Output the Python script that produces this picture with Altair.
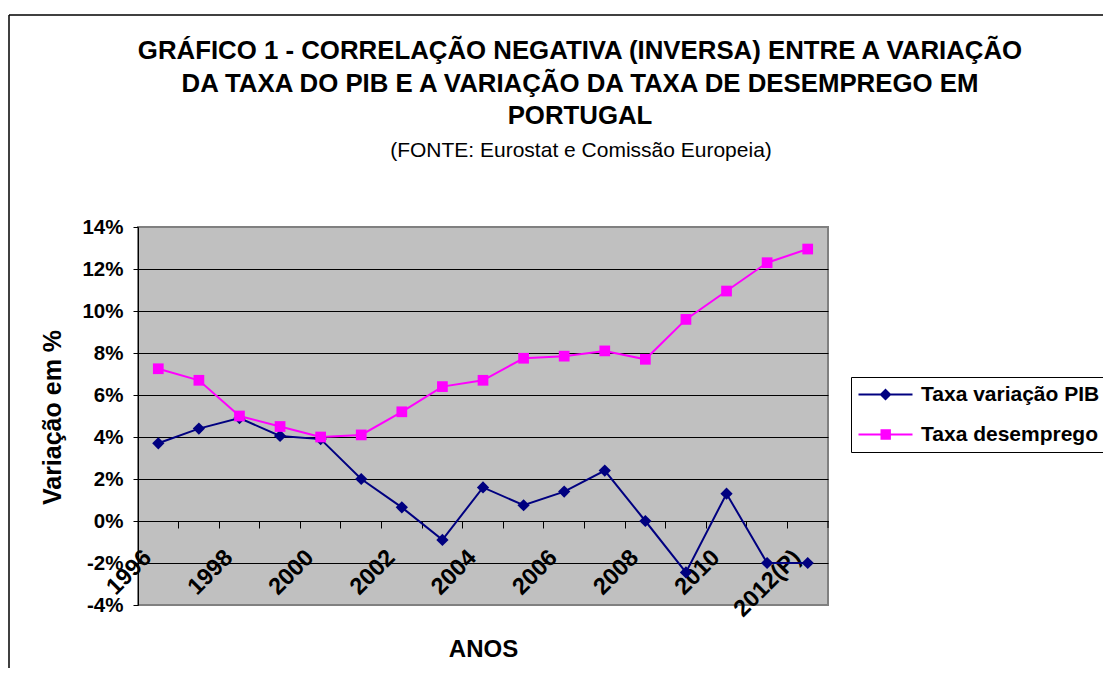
import altair as alt
import pandas as pd

# ---- data ----
anos = ["1996", "1997", "1998", "1999", "2000", "2001", "2002", "2003", "2004",
        "2005", "2006", "2007", "2008", "2009", "2010", "2011", "2012(P)"]
rotulos_eixo = ["1996", "1998", "2000", "2002", "2004", "2006", "2008", "2010", "2012(P)"]
taxa_pib = [3.7, 4.4, 4.9, 4.05, 3.9, 2.0, 0.65, -0.9, 1.6, 0.75, 1.4, 2.4, 0.0,
            -2.45, 1.3, -2.0, -2.0]
taxa_desemprego = [7.25, 6.7, 5.0, 4.5, 4.0, 4.1, 5.2, 6.4, 6.7, 7.75, 7.85, 8.1,
                   7.7, 9.6, 10.95, 12.3, 12.95]
series = ["Taxa variação PIB", "Taxa desemprego"]
cores = ["#000080", "#FF00FF"]
y_ticks = [-4, -2, 0, 2, 4, 6, 8, 10, 12, 14]

titulo = ["GRÁFICO 1 - CORRELAÇÃO NEGATIVA (INVERSA) ENTRE A VARIAÇÃO",
          "DA TAXA DO PIB E A VARIAÇÃO DA TAXA DE DESEMPREGO EM",
          "PORTUGAL"]
subtitulo = "(FONTE: Eurostat e Comissão Europeia)"

FONT = "Liberation Sans"

df = pd.DataFrame({
    "ano": anos * 2,
    "valor": taxa_pib + taxa_desemprego,
    "serie": [series[0]] * len(anos) + [series[1]] * len(anos),
})

label_list = "[" + ",".join("'%s'" % s for s in rotulos_eixo) + "]"

x_enc = alt.X(
    "ano:N",
    sort=anos,
    scale=alt.Scale(type="band", domain=anos, paddingInner=0, paddingOuter=0),
    axis=alt.Axis(
        title="ANOS", offset=-84, bandPosition=0, grid=False,
        tickSize=7, tickColor="black", tickWidth=1,
        domainColor="black", domainWidth=1,
        labelAngle=-45, labelAlign="right", labelBaseline="top",
        labelPadding=17, labelOffset=-19,
        labelOverlap=False, labelFlush=False, labelBound=False,
        labelExpr="indexof(" + label_list + ", datum.value) >= 0 ? datum.value : ''",
        labelFont=FONT, labelFontSize=23.5, labelFontWeight="bold", labelColor="black",
        titleFont=FONT, titleFontSize=24, titleFontWeight="bold", titleColor="black",
        titleX=345, titleY=135, titleAlign="center", titleBaseline="alphabetic",
    ),
)

y_enc = alt.Y(
    "valor:Q",
    scale=alt.Scale(domain=[-4, 14], nice=False, zero=False),
    axis=alt.Axis(
        title="Variação em %", values=y_ticks,
        labelExpr="datum.value + '%'",
        grid=True,
        gridColor={"condition": {"test": "datum.value == -4 || datum.value == 14",
                                 "value": "#808080"}, "value": "black"},
        gridWidth=1,
        tickSize=5, tickColor="black", domainColor="black", domainWidth=1,
        labelPadding=10,
        labelFont=FONT, labelFontSize=20.5, labelFontWeight="bold", labelColor="black",
        titleFont=FONT, titleFontSize=25, titleFontWeight="bold", titleColor="black",
        titleAngle=-90, titleX=-78, titleY=190, titleAlign="center",
        titleBaseline="alphabetic",
    ),
)

base = alt.Chart(df)

layers = []
shapes_plot = ["diamond", "square"]
sizes_plot = [150, 115]
for i, s in enumerate(series):
    sub = base.transform_filter(alt.datum.serie == s)
    layers.append(sub.mark_line(color=cores[i], strokeWidth=2).encode(x=x_enc, y=y_enc))
    layers.append(sub.mark_point(shape=shapes_plot[i], filled=True, color=cores[i],
                                 size=sizes_plot[i], opacity=1).encode(x=x_enc, y=y_enc))

# legend symbols: line segment + marker (custom paths)
leg_paths = [
    "M-1,-0.1H4.4V0.1H-1Z M1.7,-0.6L2.3,0L1.7,0.6L1.1,0Z",
    "M-1,-0.1H4.4V0.1H-1Z M1.2,-0.52H2.24V0.52H1.2Z",
]
legend_layer = base.transform_filter("false").mark_point(filled=True, opacity=1, size=400).encode(
    x=x_enc, y=y_enc,
    color=alt.Color("serie:N", scale=alt.Scale(domain=series, range=cores),
                    legend=alt.Legend(title=None, orient="none", legendX=713, legendY=150,
                                      strokeColor="black", fillColor="white", padding=7,
                                      symbolSize=400, labelOffset=42, rowPadding=18,
                                      labelFont=FONT, labelFontSize=21, labelFontWeight="bold",
                                      labelColor="black", labelLimit=400, symbolStrokeWidth=0)),
    shape=alt.Shape("serie:N", scale=alt.Scale(domain=series, range=leg_paths)),
)

aux = alt.Chart(pd.DataFrame({"k": [0]}))
frame_top = aux.mark_rule(color="black", strokeWidth=1.5).encode(
    x=alt.value(-129), x2=alt.value(1000), y=alt.value(-212))
frame_left = aux.mark_rule(color="black", strokeWidth=1.5).encode(
    x=alt.value(-129), y=alt.value(-212), y2=alt.value(480))
# closing tick at the right edge of the category axis
edge_tick = aux.mark_rule(color="black", strokeWidth=1).encode(
    x=alt.value(690), y=alt.value(294), y2=alt.value(301))

title_layers = []
title_y = [-168, -135, -103]
for t, yy in zip(titulo, title_y):
    title_layers.append(aux.mark_text(text=t, font=FONT, fontSize=25.8, fontWeight="bold",
                                      color="black", align="center", baseline="alphabetic")
                        .encode(x=alt.value(442), y=alt.value(yy)))
title_layers.append(aux.mark_text(text=subtitulo, font=FONT, fontSize=21,
                                  color="black", align="center", baseline="alphabetic")
                    .encode(x=alt.value(443), y=alt.value(-70)))

chart = alt.layer(*layers, legend_layer, frame_top, frame_left, edge_tick,
                  *title_layers).properties(
    width=690, height=378,
    autosize=alt.AutoSizeParams(type="none"),
    padding={"left": 130, "top": 219, "right": 275, "bottom": 63},
    background="white",
).configure_view(
    fill="#C0C0C0", stroke="#808080", strokeWidth=2
)

chart.save("out.html", embed_options={"renderer": "svg", "actions": False})
